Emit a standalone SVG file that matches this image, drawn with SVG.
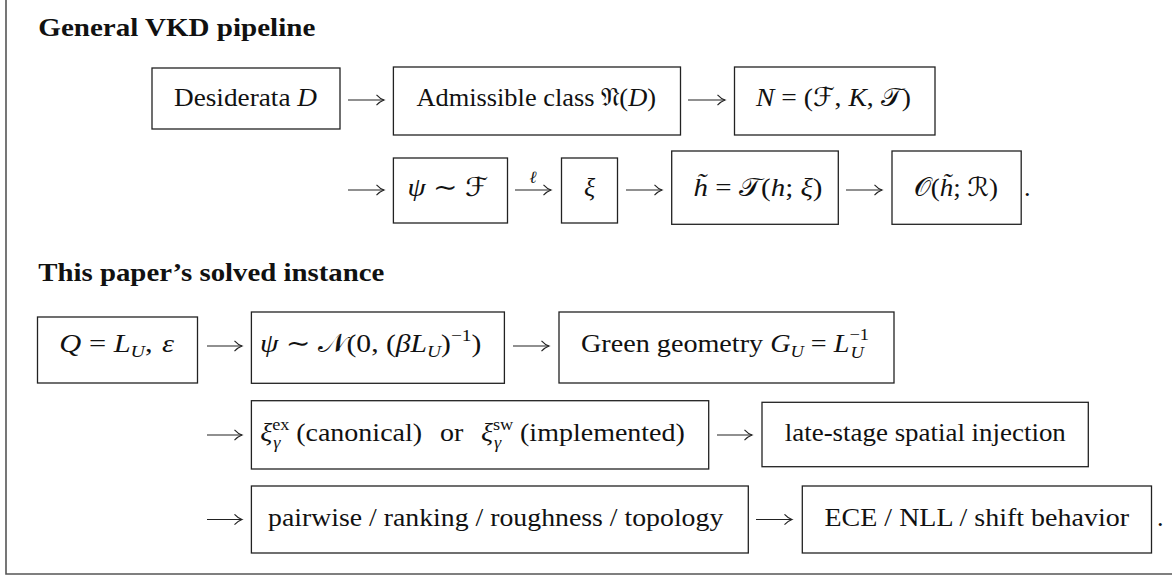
<svg xmlns="http://www.w3.org/2000/svg" width="1172" height="577" viewBox="0 0 1172 577">
<style>
.bx{fill:none;stroke:#222;stroke-width:1.3}
.t{font-family:"Liberation Serif","DejaVu Serif","DejaVu Sans",serif;font-size:26px;fill:#111}
.h{font-weight:bold}
.i{font-style:italic}
.s{font-size:17px}
.ln{fill:none;stroke:#222;stroke-width:1.1}
</style>
<defs>
<marker id="ah" markerUnits="userSpaceOnUse" markerWidth="10" markerHeight="13" refX="8" refY="6" orient="auto">
<path d="M0.5,0.8 Q4,4.6 8,6 Q4,7.4 0.5,11.2" fill="none" stroke="#222" stroke-width="1.1"/>
</marker>
</defs>
<rect width="1172" height="577" fill="#fff"/>
<path d="M6,0 V574 H1172" fill="none" stroke="#555" stroke-width="1.6"/>

<g id="title1"><text class="t h" x="38.3" y="36" textLength="277" lengthAdjust="spacingAndGlyphs">General VKD pipeline</text></g>
<g id="title2"><text class="t h" x="38.3" y="281" textLength="346" lengthAdjust="spacingAndGlyphs">This paper’s solved instance</text></g>

<g id="n1"><rect class="bx" x="152" y="68" width="188" height="61"/>
<text class="t" x="174" y="106" textLength="143" lengthAdjust="spacingAndGlyphs">Desiderata <tspan class="i">D</tspan></text></g>
<g id="n2"><rect class="bx" x="393.4" y="67" width="287.1" height="68"/>
<text class="t" x="416.4" y="106" textLength="239.6" lengthAdjust="spacingAndGlyphs">Admissible class 𝔑(<tspan class="i">D</tspan>)</text></g>
<g id="n3"><rect class="bx" x="734.5" y="67" width="200.5" height="68"/>
<text class="t" x="756" y="106" textLength="155" lengthAdjust="spacingAndGlyphs"><tspan class="i">N</tspan> = (ℱ, <tspan class="i">K</tspan>, 𝒯)</text></g>

<g id="n4"><rect class="bx" x="393.4" y="158" width="114.1" height="65"/>
<text class="t" x="407.6" y="196" textLength="80.4" lengthAdjust="spacingAndGlyphs"><tspan class="i">ψ</tspan> ∼ ℱ</text></g>
<g id="n5"><rect class="bx" x="561.5" y="158" width="56" height="65"/>
<text class="t i" x="589.5" y="196" text-anchor="middle">ξ</text></g>
<g id="n6"><rect class="bx" x="671.7" y="151" width="166.6" height="73.3"/>
<text class="t" x="693.5" y="196" textLength="129" lengthAdjust="spacingAndGlyphs"><tspan class="i">h̃</tspan> = 𝒯(<tspan class="i">h</tspan>; <tspan class="i">ξ</tspan>)</text></g>
<g id="n7"><rect class="bx" x="892" y="151" width="129.2" height="73.3"/>
<text class="t" x="914" y="196" textLength="84" lengthAdjust="spacingAndGlyphs">𝒪(<tspan class="i">h̃</tspan>; ℛ)</text></g>
<text class="t" x="1024" y="196">.</text>

<g id="n8"><rect class="bx" x="37.5" y="317" width="160" height="66"/>
<text class="t" x="59.3" y="352" textLength="114.7" lengthAdjust="spacingAndGlyphs"><tspan class="i">Q</tspan> = <tspan class="i">L</tspan><tspan class="s i" dy="5">U</tspan><tspan dy="-5">,</tspan><tspan class="i" dx="8">ε</tspan></text></g>
<g id="n9"><rect class="bx" x="251.4" y="312" width="253" height="71.3"/>
<text class="t" x="260" y="352" textLength="221.4" lengthAdjust="spacingAndGlyphs"><tspan class="i">ψ</tspan> ∼ 𝒩(0, (<tspan class="i">βL</tspan><tspan class="s i" dy="5">U</tspan><tspan dy="-5">)</tspan><tspan class="s" dy="-11">−1</tspan><tspan dy="11">)</tspan></text></g>
<g id="n10"><rect class="bx" x="559" y="312" width="335" height="71"/>
<text class="t" x="581" y="352" textLength="288" lengthAdjust="spacingAndGlyphs">Green geometry <tspan class="i">G</tspan><tspan class="s i" dy="5">U</tspan><tspan dy="-5"> = </tspan><tspan class="i">L</tspan><tspan class="s" dy="-12">−1</tspan><tspan class="s i" dx="-17" dy="18">U</tspan></text></g>

<g id="n11"><rect class="bx" x="251.4" y="400.7" width="457.3" height="68.3"/>
<text class="t" x="260.2" y="441" textLength="424.7" lengthAdjust="spacingAndGlyphs"><tspan class="i">ξ</tspan><tspan class="s" dy="-11">ex</tspan><tspan class="s i" dx="-15" dy="18">γ</tspan><tspan dx="8" dy="-7"> (canonical)</tspan><tspan dx="10"> or</tspan><tspan dx="10" class="i"> ξ</tspan><tspan class="s" dy="-11">sw</tspan><tspan class="s i" dx="-18" dy="18">γ</tspan><tspan dx="11" dy="-7"> (implemented)</tspan></text></g>
<g id="n12"><rect class="bx" x="762" y="402.3" width="326.3" height="64.4"/>
<text class="t" x="784.8" y="441" textLength="281" lengthAdjust="spacingAndGlyphs">late-stage spatial injection</text></g>

<g id="n13"><rect class="bx" x="251.4" y="486" width="496.9" height="67"/>
<text class="t" x="268" y="525.5" textLength="455.3" lengthAdjust="spacingAndGlyphs">pairwise / ranking / roughness / topology</text></g>
<g id="n14"><rect class="bx" x="802.3" y="486" width="349.2" height="67"/>
<text class="t" x="824.5" y="525.5" textLength="304.5" lengthAdjust="spacingAndGlyphs">ECE / NLL / shift behavior</text></g>
<text class="t" x="1157" y="525.5">.</text>

<g id="connectors">
<line class="ln" x1="348" y1="100" x2="384" y2="100" marker-end="url(#ah)"/>
<line class="ln" x1="688" y1="100" x2="725" y2="100" marker-end="url(#ah)"/>
<line class="ln" x1="348" y1="190" x2="384" y2="190" marker-end="url(#ah)"/>
<line class="ln" x1="515" y1="190" x2="551" y2="190" marker-end="url(#ah)"/>
<text class="t i s" x="533" y="183" text-anchor="middle">ℓ</text>
<line class="ln" x1="626" y1="190" x2="662" y2="190" marker-end="url(#ah)"/>
<line class="ln" x1="846" y1="190" x2="882" y2="190" marker-end="url(#ah)"/>
<line class="ln" x1="207" y1="346" x2="242" y2="346" marker-end="url(#ah)"/>
<line class="ln" x1="513" y1="346" x2="549" y2="346" marker-end="url(#ah)"/>
<line class="ln" x1="207" y1="435" x2="242" y2="435" marker-end="url(#ah)"/>
<line class="ln" x1="717" y1="435" x2="752" y2="435" marker-end="url(#ah)"/>
<line class="ln" x1="207" y1="519.5" x2="242" y2="519.5" marker-end="url(#ah)"/>
<line class="ln" x1="756" y1="519.5" x2="792" y2="519.5" marker-end="url(#ah)"/>
</g>
</svg>
